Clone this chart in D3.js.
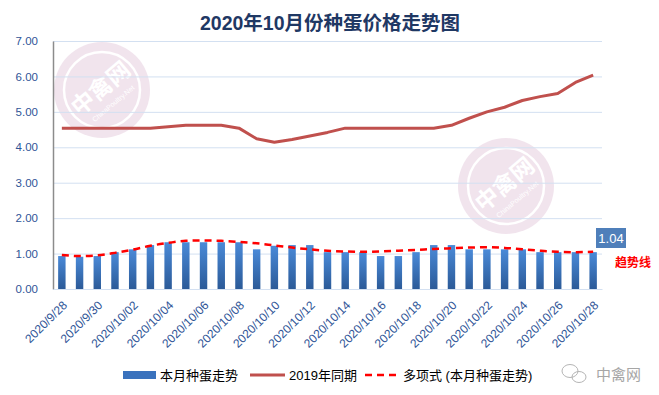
<!DOCTYPE html>
<html>
<head>
<meta charset="utf-8">
<script src="https://cdn.jsdelivr.net/npm/d3@7/dist/d3.min.js"></script>
<style>
  body { margin: 0; background: #fff; }
  svg { display: block; font-family: "Liberation Sans", "Noto Sans CJK SC", sans-serif; }
</style>
</head>
<body>
<svg width="659" height="395"></svg>
<script>
// categories: daily dates
var dates = ["2020/9/28","2020/9/29","2020/9/30","2020/10/01","2020/10/02","2020/10/03","2020/10/04",
  "2020/10/05","2020/10/06","2020/10/07","2020/10/08","2020/10/09","2020/10/10","2020/10/11","2020/10/12",
  "2020/10/13","2020/10/14","2020/10/15","2020/10/16","2020/10/17","2020/10/18","2020/10/19","2020/10/20",
  "2020/10/21","2020/10/22","2020/10/23","2020/10/24","2020/10/25","2020/10/26","2020/10/27","2020/10/28"];

// 本月种蛋走势 (bars)
var thisMonth = [0.93,0.91,0.93,1.04,1.12,1.24,1.32,1.32,1.32,1.32,1.32,1.12,1.22,1.24,1.24,1.04,1.04,
  1.04,0.93,0.93,1.04,1.24,1.24,1.12,1.12,1.12,1.12,1.04,1.04,1.04,1.04];

// 2019年同期
var lastYear = [4.54,4.54,4.54,4.54,4.54,4.54,4.58,4.62,4.62,4.62,4.54,4.24,4.14,4.22,4.32,4.42,4.54,
  4.54,4.54,4.54,4.54,4.54,4.62,4.82,5.00,5.13,5.32,5.43,5.52,5.83,6.04];

// 多项式 (本月种蛋走势) trend
var trend = [0.96,0.93,0.95,1.02,1.11,1.22,1.30,1.36,1.37,1.36,1.33,1.29,1.23,1.17,1.12,1.08,1.06,
  1.05,1.06,1.08,1.10,1.13,1.15,1.17,1.18,1.16,1.12,1.08,1.05,1.04,1.05];

var yTicks = [0,1,2,3,4,5,6,7];
var legendLabels = ["本月种蛋走势", "2019年同期", "多项式 (本月种蛋走势)"];

var svg = d3.select("svg");
var plotL = 53, plotR = 602, plotT = 41, plotB = 289;

var x = d3.scaleBand().domain(dates).range([plotL, plotR]);
var y = d3.scaleLinear().domain([0, 7]).range([plotB, plotT]);
var cx = function(d) { return x(d) + x.bandwidth() / 2; };

var defs = svg.append("defs");
var grad = defs.append("linearGradient").attr("id", "barGrad")
  .attr("x1", 0).attr("y1", 0).attr("x2", 0).attr("y2", 1);
grad.append("stop").attr("offset", "0%").attr("stop-color", "#4a8ad8");
grad.append("stop").attr("offset", "100%").attr("stop-color", "#2b5a98");

// watermarks
function watermark(px, py) {
  var w = svg.append("g").attr("transform", "translate(" + px + "," + py + ")").attr("opacity", 0.42);
  w.append("circle").attr("r", 48).attr("fill", "#e0bfd6");
  w.append("circle").attr("r", 38).attr("fill", "none").attr("stroke", "#fff").attr("stroke-width", 2.5);
  w.append("text").attr("transform", "rotate(-40)").attr("text-anchor", "middle").attr("y", 6)
    .attr("font-size", 23).attr("font-weight", "bold").attr("fill", "#fff").text("中禽网");
  w.append("text").attr("transform", "rotate(-40)").attr("text-anchor", "middle").attr("y", 20)
    .attr("font-size", 7).attr("fill", "#fff").text("ChinaPoultry.Net");
}
watermark(102, 90);
watermark(506, 186);

// gridlines
svg.append("g").selectAll("line").data(yTicks).enter().append("line")
  .attr("x1", plotL).attr("x2", plotR)
  .attr("y1", function(d) { return y(d) + 0.5; }).attr("y2", function(d) { return y(d) + 0.5; })
  .attr("stroke", "#d3e0f1").attr("stroke-width", 1);

// y axis
var yAxis = svg.append("g").attr("transform", "translate(" + plotL + ",0)")
  .call(d3.axisLeft(y).tickValues(yTicks).tickFormat(d3.format(".2f")).tickSize(0).tickPadding(15));
yAxis.select(".domain").attr("stroke", "#8c8c8c").attr("stroke-width", 1.5);
yAxis.selectAll("text").attr("font-size", 11.5).attr("fill", "#2f5597");

// bars
var bw = x.bandwidth() * 0.42;
svg.append("g").selectAll("rect").data(dates).enter().append("rect")
  .attr("x", function(d) { return cx(d) - bw / 2; })
  .attr("y", function(d, i) { return y(thisMonth[i]); })
  .attr("width", bw)
  .attr("height", function(d, i) { return plotB - y(thisMonth[i]); })
  .attr("fill", "url(#barGrad)");

// 2019 line
var line = d3.line().x(function(d) { return cx(d[0]); }).y(function(d) { return y(d[1]); });
svg.append("path").datum(d3.zip(dates, lastYear)).attr("d", line)
  .attr("fill", "none").attr("stroke", "#c0504d").attr("stroke-width", 3).attr("stroke-linejoin", "round");

// polynomial trend
svg.append("path").datum(d3.zip(dates, trend)).attr("d", line.curve(d3.curveMonotoneX))
  .attr("fill", "none").attr("stroke", "#ff0000").attr("stroke-width", 2.5).attr("stroke-dasharray", "7,5");

// x axis
var xAxis = svg.append("g").attr("transform", "translate(0," + plotB + ")")
  .call(d3.axisBottom(x).tickValues(dates.filter(function(d, i) { return i % 2 === 0; })).tickSize(0));
xAxis.select(".domain").attr("stroke", "#d3e0f1");
xAxis.selectAll("text").attr("font-size", 12).attr("fill", "#2f5597")
  .attr("text-anchor", "end").attr("dy", 0).attr("y", 0)
  .attr("transform", "translate(6,17) rotate(-45)");

// title
svg.append("text").attr("x", 330).attr("y", 30).attr("text-anchor", "middle")
  .attr("font-size", 19.5).attr("font-weight", "bold").attr("fill", "#1f3864")
  .text("2020年10月份种蛋价格走势图");

// last value label
svg.append("rect").attr("x", 596).attr("y", 228).attr("width", 30).attr("height", 20).attr("fill", "#4f7fba");
svg.append("text").attr("x", 611).attr("y", 243).attr("text-anchor", "middle")
  .attr("font-size", 13).attr("fill", "#fff").text(d3.format(".2f")(thisMonth[thisMonth.length - 1]));
svg.append("text").attr("x", 615).attr("y", 267).attr("font-size", 12).attr("font-weight", "bold")
  .attr("fill", "#ff0000").text("趋势线");

// legend
var lg = svg.append("g").attr("font-size", 13).attr("fill", "#000");
lg.append("rect").attr("x", 123).attr("y", 371).attr("width", 33).attr("height", 8).attr("fill", "#3a72bd");
lg.append("text").attr("x", 160).attr("y", 380).text(legendLabels[0]);
lg.append("line").attr("x1", 250).attr("x2", 285).attr("y1", 375).attr("y2", 375)
  .attr("stroke", "#c0504d").attr("stroke-width", 3);
lg.append("text").attr("x", 289).attr("y", 380).text(legendLabels[1]);
lg.append("line").attr("x1", 365).attr("x2", 399).attr("y1", 375).attr("y2", 375)
  .attr("stroke", "#ff0000").attr("stroke-width", 2.5).attr("stroke-dasharray", "7,5");
lg.append("text").attr("x", 403).attr("y", 380).text(legendLabels[2]);

// wechat-style mark
var wm = svg.append("g").attr("fill", "none").attr("stroke", "#b5b5b5").attr("stroke-width", 1);
wm.append("ellipse").attr("cx", 570).attr("cy", 371).attr("rx", 8).attr("ry", 6.5);
wm.append("ellipse").attr("cx", 579).attr("cy", 377).attr("rx", 7).attr("ry", 5.5);
svg.append("text").attr("x", 596).attr("y", 380).attr("font-size", 15).attr("fill", "#a6a6a6").text("中禽网");
</script>
</body>
</html>
